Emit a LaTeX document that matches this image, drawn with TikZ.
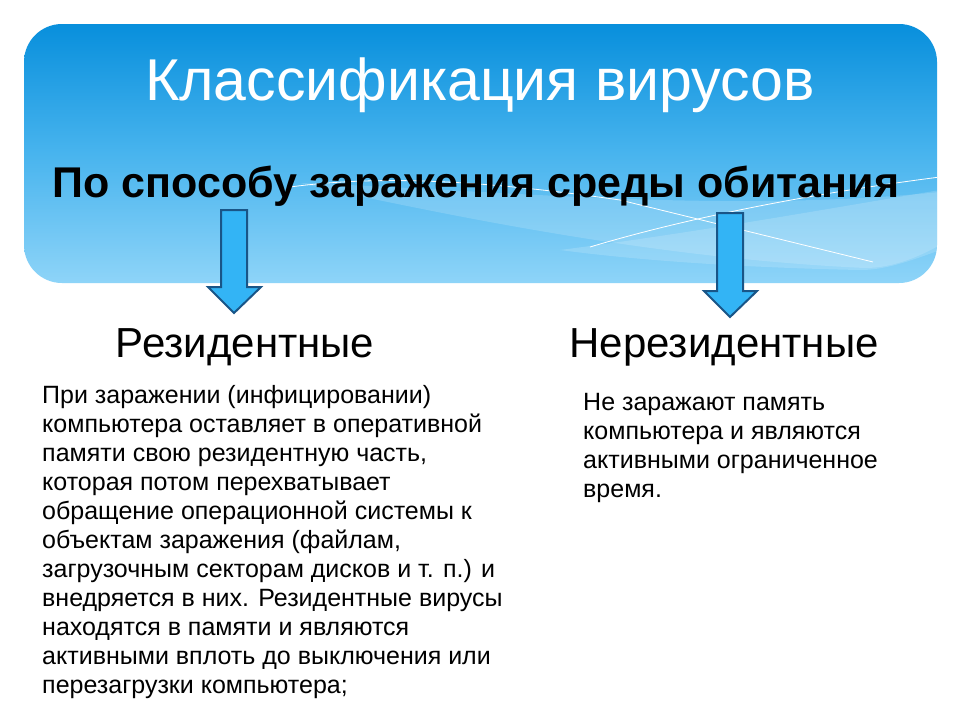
\documentclass[tikz,border=0pt]{standalone}
\usepackage{fontspec}
\setmainfont{Liberation Sans}
\definecolor{bannerTop}{RGB}{8,143,220}
\definecolor{bannerMid}{RGB}{72,180,238}
\definecolor{bannerBot}{RGB}{142,212,248}
\definecolor{arrowFill}{RGB}{51,180,245}
\definecolor{arrowLine}{RGB}{25,85,135}
\begin{document}
\begin{tikzpicture}[x=1pt,y=-1pt,
  bodytext/.style={font=\fontsize{25}{29}\selectfont, anchor=base west, inner sep=0pt},
  headtext/.style={font=\fontsize{42}{48}\selectfont, anchor=base, inner sep=0pt},
  downarrow/.style={fill=arrowFill, draw=arrowLine, line width=2pt, line join=miter},
  glare/.style={white, line width=0.8pt},
  band/.style={white, opacity=0.16}]
\useasboundingbox (0,0) rectangle (960,720);
\fill[white] (0,0) rectangle (960,720);
% banner
\shade[rounded corners=38pt, top color=bannerTop, bottom color=bannerBot, middle color=bannerMid]
  (24,24) rectangle (937,283);
\begin{scope}
  \clip[rounded corners=38pt] (24,24) rectangle (937,283);
  \fill[band] (300,183) .. controls (500,190) and (720,214) .. (940,192)
     -- (940,245) .. controls (910,262) and (885,268) .. (865,268)
     .. controls (650,258) and (450,215) .. (330,190) -- cycle;
  \fill[band] (560,250) .. controls (700,232) and (850,205) .. (940,190)
     -- (940,250) .. controls (900,265) and (880,270) .. (860,270)
     .. controls (760,268) and (650,262) .. (560,250) -- cycle;
  \draw[glare] (290,187) .. controls (380,175) and (480,180) .. (620,200) -- (873,262);
  \draw[glare] (590,247) .. controls (680,220) and (800,195) .. (940,177);
\end{scope}
% titles
\node[font=\fontsize{59}{70}\selectfont, text=white, anchor=base, inner sep=0pt] (title) at (480,100) {Классификация вирусов};
\node[font=\fontsize{43}{50}\selectfont\bfseries, anchor=base, inner sep=0pt] (subtitle) at (476,197) {По способу заражения среды обитания};
% arrows
\draw[downarrow] (221,210) -- (247,210) -- (247,287) -- (261,287) -- (234,313) -- (208,287) -- (221,287) -- cycle;
\draw[downarrow] (717,213) -- (743,213) -- (743,291) -- (757,291) -- (730,317) -- (704,291) -- (717,291) -- cycle;
% headings
\node[headtext] (res) at (245,357) {Резидентные};
\node[headtext] (nonres) at (724,357) {Нерезидентные};
% left text
\foreach \t [count=\i] in {{При заражении (инфицировании)},
  {компьютера оставляет в оперативной},
  {памяти свою резидентную часть,},
  {которая потом перехватывает},
  {обращение операционной системы к},
  {объектам заражения (файлам,},
  {загрузочным секторам дисков и т. п.) и},
  {внедряется в них. Резидентные вирусы},
  {находятся в памяти и являются},
  {активными вплоть до выключения или},
  {перезагрузки компьютера;}}
  \node[bodytext] (left\i) at (42,{403+29*(\i-1)}) {\t};
% right text
\foreach \t [count=\i] in {{Не заражают память},
  {компьютера и являются},
  {активными ограниченное},
  {время.}}
  \node[bodytext] (right\i) at (583,{410+29*(\i-1)}) {\t};
\end{tikzpicture}
\end{document}
